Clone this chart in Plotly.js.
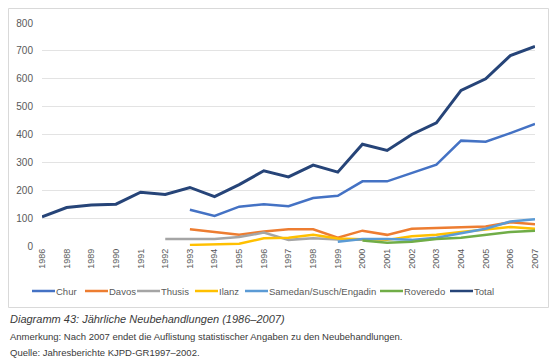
<!DOCTYPE html>
<html>
<head>
<meta charset="utf-8">
<script src="https://cdn.plot.ly/plotly-3.0.1.min.js"></script>
<style>body{margin:0;background:#fff}#chart{width:558px;height:360px}</style>
</head>
<body>
<div id="chart"></div>
<script>
var years = ['1986','1988','1989','1990','1991','1992','1993','1994','1995','1996','1997','1998','1999','2000','2001','2002','2003','2004','2005','2006','2007'];
var chur     = [null,null,null,null,null,null,130,108,141,150,143,172,180,232,232,262,292,378,374,405,438];
var davos    = [null,null,null,null,null,null,60,50,40,52,60,60,30,55,40,62,65,67,70,85,78];
var thusis   = [null,null,null,null,null,25,25,25,32,48,22,28,23,22,null,null,null,null,null,null,null];
var ilanz    = [null,null,null,null,null,null,4,5,8,28,30,40,27,24,22,35,40,50,60,68,62];
var samedan  = [null,null,null,null,null,null,null,null,null,null,null,null,15,25,25,22,30,45,62,88,96];
var roveredo = [null,null,null,null,null,null,null,null,null,null,null,null,null,20,12,15,25,30,40,50,55];
var total    = [105,138,147,150,193,185,210,177,220,270,248,290,265,365,343,400,442,558,600,683,716];
var names  = ['Chur','Davos','Thusis','Ilanz','Samedan/Susch/Engadin','Roveredo','Total'];
var series = [chur,davos,thusis,ilanz,samedan,roveredo,total];
var colors = ['#4472C4','#ED7D31','#A5A5A5','#FFC000','#5B9BD5','#70AD47','#264478'];
var yTicks = [0,100,200,300,400,500,600,700,800];

var traces = series.map(function(s,i){
  return {x: years, y: s, name: names[i], type: 'scatter', mode: 'lines',
    line: {color: colors[i], width: i===6 ? 3 : 2.5}, connectgaps: false, showlegend: false};
});

var L=42, R=23, T=23, B=114, W=558, H=360;
var pw = W-L-R, ph = H-T-B;
function px(x){return (x-L)/pw;}
function py(y){return (H-B-y)/ph;}

var shapes = [{type: 'rect', xref: 'paper', yref: 'paper', x0: px(8.5), x1: px(548.5), y0: py(307.5), y1: py(8.5),
    line: {color: '#d9d9d9', width: 1}, fillcolor: 'rgba(0,0,0,0)', layer: 'below'}];
var annotations = [
    {xref: 'paper', yref: 'paper', x: px(8), y: py(319), xanchor: 'left', yanchor: 'middle', showarrow: false,
      text: '<i>Diagramm 43: Jährliche Neubehandlungen (1986–2007)</i>', font: {size: 11, color: '#3a3a3a'}},
    {xref: 'paper', yref: 'paper', x: px(8), y: py(336), xanchor: 'left', yanchor: 'middle', showarrow: false,
      text: 'Anmerkung: Nach 2007 endet die Auflistung statistischer Angaben zu den Neubehandlungen.', font: {size: 9.5, color: '#3a3a3a'}},
    {xref: 'paper', yref: 'paper', x: px(8), y: py(352), xanchor: 'left', yanchor: 'middle', showarrow: false,
      text: 'Quelle: Jahresberichte KJPD-GR1997–2002.', font: {size: 9.5, color: '#3a3a3a'}}
];
// custom single-row legend
var legendStart = [32, 85, 137, 195, 245, 380, 450];
var legY = 291;
names.forEach(function(n,i){
  var x0 = legendStart[i];
  shapes.push({type: 'line', xref: 'paper', yref: 'paper', x0: px(x0), x1: px(x0+23), y0: py(legY), y1: py(legY),
    line: {color: colors[i], width: 2.5}});
  annotations.push({xref: 'paper', yref: 'paper', x: px(x0+24), y: py(legY), xanchor: 'left', yanchor: 'middle',
    showarrow: false, text: n, font: {size: 9.5, color: '#595959'}, xshift: -2});
});

var layout = {
  width: W, height: H,
  margin: {l: L, r: R, t: T, b: B, pad: 0},
  paper_bgcolor: '#fff', plot_bgcolor: '#fff',
  font: {family: 'Liberation Sans, Arial, sans-serif', size: 9, color: '#595959'},
  showlegend: false,
  xaxis: {type: 'category', tickmode: 'array', tickvals: years, ticktext: years, tickangle: -90,
    showgrid: false, zeroline: false, showline: false, ticks: '', tickfont: {size: 9, color: '#595959'}},
  yaxis: {range: [0, 800], tickvals: yTicks, showgrid: true, gridcolor: '#e3e3e3', gridwidth: 1,
    zeroline: false, showline: false, ticks: '', tickfont: {size: 10, color: '#595959'}, ticklabelstandoff: 8},
  shapes: shapes,
  annotations: annotations
};
Plotly.newPlot('chart', traces, layout, {displayModeBar: false, staticPlot: true});
</script>
</body>
</html>
